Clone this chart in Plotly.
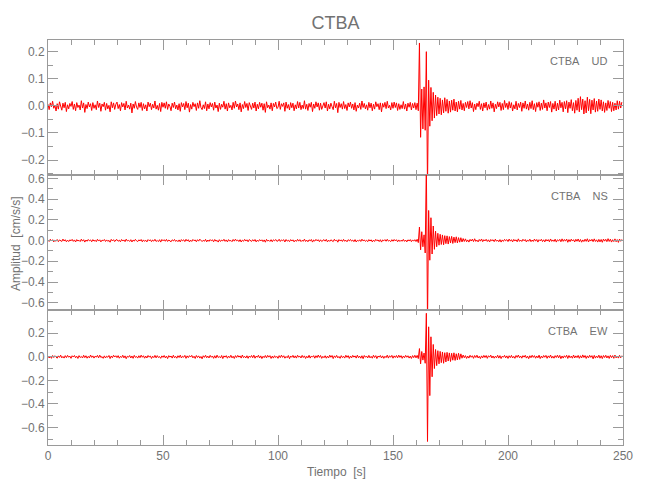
import plotly.graph_objects as go
from plotly.subplots import make_subplots

# ---------------- data (amplitudes in 0.001 cm/s/s) ----------------
station = "CTBA"
components = ["UD", "NS", "EW"]

# sample times [s]: 0.5 s sampling over 0-249.5 s (500 samples per trace)
dt = 0.5
n_samples = 500

ud = [6,-14,11,-3,17,-9,2,-19,8,-12,15,-5,-16,10,-7,13,-21,4,-11,9,
      -2,16,-13,7,-18,12,-6,3,-15,19,-8,11,-24,5,-10,14,-4,8,-17,12,
      -9,4,-14,18,-6,10,-20,7,-3,13,-16,9,-11,2,-22,15,-7,11,-13,6,
      14,-10,5,-18,12,-4,9,-15,17,-8,3,-12,10,-26,7,-9,16,-5,-13,11,
      -6,13,-17,8,-11,4,-19,14,-3,10,-14,6,-8,18,-12,2,-16,9,-21,13,
      -5,11,-9,15,-13,7,-2,-18,10,-6,14,-11,3,-15,8,-20,12,-4,9,-14,
      16,-7,10,-23,5,-12,13,-3,8,-17,11,-9,19,-6,-14,4,-10,15,-18,7,
      -11,12,-4,9,-16,14,-8,3,-21,10,-13,6,-5,17,-12,8,-19,11,-7,2,
      -15,13,-9,18,-4,7,-14,11,-22,5,-10,16,-6,9,-17,12,-3,-13,10,-8,
      14,-19,6,-11,13,-5,10,-16,8,-24,15,-7,3,-12,11,-18,9,-4,14,-10,
      -6,17,-13,8,-2,11,-20,14,-9,5,-15,12,-7,10,-18,4,-11,16,-8,13,
      -14,3,-10,19,-12,6,-17,9,-5,13,-21,7,-9,15,-4,11,-16,10,-13,2,
      12,-8,15,-19,6,-11,10,-3,-14,17,-7,9,-25,13,-6,8,-12,16,-10,5,
      -17,11,-4,14,-9,7,-15,12,-20,3,-8,10,-13,18,-6,9,-11,4,-16,13,
      -7,10,-18,6,-12,15,-3,8,-14,11,-22,9,-5,13,-10,17,-8,2,-15,12,
      -9,14,-6,11,-17,8,-13,4,-10,16,-12,7,-19,10,-5,13,-15,9,-8,12,
      -14,10,-18,232,-116,62,-85,70,-90,200,-300,95,-75,68,-55,50,-45,40,-36,32,
      -30,28,-33,22,-26,30,-20,24,-27,18,-23,21,-16,25,-19,14,-22,17,-12,20,
      -15,9,-18,13,-6,16,-11,19,-8,12,-21,7,-14,10,-3,17,-13,8,-19,11,
      -7,14,-16,5,-12,18,-9,11,-22,6,-10,15,-4,13,-17,9,-14,20,-6,10,
      -13,16,-8,12,-19,4,-11,17,-15,9,-6,14,-20,11,-9,18,-12,7,-16,13,
      -10,19,-14,8,-21,12,-5,15,-17,10,-13,22,-8,11,-18,14,-6,16,-23,9,
      -12,17,-19,10,-15,21,-7,13,-22,16,-11,19,-25,14,-9,23,-18,12,-27,20,
      -16,28,-22,34,-14,25,-30,19,-26,32,-18,24,-29,21,-15,27,-23,18,-20,25,
      -13,22,-19,15,-24,11,-17,20,-9,16,-21,13,-18,10,-15,19,-12,17,-8,14]

ns = [5,-9,12,-4,8,-13,3,-7,10,-11,6,-2,-9,14,-5,8,-12,4,-10,7,
      -3,11,-8,6,-14,9,-4,2,-10,13,-6,8,-15,5,-7,10,-3,6,-12,9,
      -6,3,-11,12,-5,7,-13,4,-2,10,-9,6,-8,2,-16,11,-4,8,-10,5,
      9,-7,3,-12,10,-5,6,-11,13,-4,2,-9,8,-14,5,-6,11,-3,-10,7,
      -4,10,-12,6,-8,3,-13,9,-2,7,-11,5,-6,12,-9,1,-10,8,-15,10,
      -3,8,-7,11,-9,5,-1,-12,7,-4,10,-8,2,-11,6,-13,9,-3,7,-10,
      12,-5,8,-14,4,-9,10,-2,6,-12,8,-6,13,-4,-10,3,-7,11,-13,5,
      -8,9,-3,7,-12,10,-6,2,-15,8,-9,4,-4,12,-8,6,-13,9,-5,1,
      -11,10,-6,13,-3,5,-10,8,-14,4,-7,11,-5,7,-12,9,-2,-9,8,-6,
      10,-13,4,-8,9,-4,7,-11,6,-16,11,-5,2,-9,8,-12,7,-3,10,-7,
      -4,12,-9,6,-1,8,-14,10,-6,3,-11,9,-5,7,-13,3,-8,11,-6,9,
      -10,2,-7,13,-9,4,-12,7,-3,10,-15,5,-6,11,-3,8,-11,7,-9,2,
      9,-6,11,-13,4,-8,7,-2,-10,12,-5,6,-16,9,-4,6,-9,11,-7,3,
      -12,8,-3,10,-6,5,-11,9,-14,2,-6,7,-9,13,-4,6,-8,3,-11,9,
      -5,7,-13,4,-9,11,-2,6,-10,8,-15,6,-3,9,-7,12,-6,1,-11,8,
      -7,10,-4,8,-12,6,-9,3,-7,11,-8,5,-13,7,-4,9,-11,6,-6,8,
      -10,12,-20,130,-90,85,-60,55,-120,750,-800,290,-190,220,-130,140,-85,90,-60,70,
      -45,60,-38,54,-41,47,-30,45,-34,38,-24,40,-28,33,-20,36,-23,28,-16,27,
      -14,19,-9,16,-12,6,-15,11,-5,13,-10,17,-8,4,-13,10,-6,15,-11,8,
      -4,12,-9,7,-14,10,-3,8,-11,13,-7,5,-12,9,-15,6,-8,11,-2,9,
      -10,14,-6,8,-13,11,-4,7,-12,16,-8,5,-9,12,-3,10,-14,6,-7,13,
      -11,5,-9,14,-6,10,-15,8,-3,12,-10,7,-13,11,-5,9,-12,15,-8,6,
      -9,13,-15,7,-4,11,-12,16,-8,10,-6,14,-17,9,-11,13,-5,8,-14,12,
      -7,15,-12,10,-16,6,-10,13,-8,17,-14,9,-5,12,-11,16,-9,7,-15,11,
      -13,10,-17,14,-6,12,-11,18,-9,13,-15,8,-10,16,-12,9,-18,14,-7,11]

ew = [7,-10,4,-13,11,-6,9,-3,-12,8,-5,14,-9,3,-11,10,-7,12,-4,6,
      -13,9,-2,11,-8,5,-14,10,-6,3,-10,13,-7,9,-12,4,-9,15,-5,8,
      -11,6,-3,12,-9,14,-6,2,-13,8,-10,5,-4,11,-15,7,-8,13,-2,9,
      -7,10,-12,4,-6,13,-9,8,-16,5,-3,11,-10,7,-13,12,-5,3,-11,9,
      -8,14,-4,9,-12,6,-10,11,-3,8,-14,5,-7,12,-9,10,-6,2,-13,8,
      -5,11,-9,6,-15,10,-3,7,-11,13,-8,4,-12,9,-6,14,-10,5,-4,12,
      -13,8,-7,10,-2,12,-9,5,-14,11,-6,8,-11,3,-17,9,-5,13,-8,6,
      -10,12,-4,7,-13,9,-11,14,-6,3,-9,11,-15,8,-3,10,-12,6,-7,13,
      -9,5,-14,10,-6,12,-3,8,-11,15,-7,4,-10,9,-13,7,-5,11,-8,14,
      -12,6,-4,13,-10,8,-15,5,-7,11,-9,12,-3,10,-14,6,-11,9,-6,4,
      -13,10,-7,14,-5,9,-12,3,-8,11,-16,7,-4,12,-9,8,-11,13,-3,6,
      -10,12,-6,8,-14,5,-9,13,-11,7,-3,10,-12,9,-7,15,-5,11,-13,4,
      -8,9,-12,6,-10,14,-4,11,-15,8,-6,12,-9,3,-13,10,-7,5,-11,13,
      -5,10,-14,7,-9,12,-3,8,-11,14,-8,6,-12,9,-16,11,-4,7,-10,12,
      -9,4,-12,13,-6,10,-15,7,-3,11,-10,8,-13,5,-7,14,-11,9,-4,12,
      -12,8,-6,11,-9,14,-5,10,-13,7,-8,12,-4,9,-11,6,-14,10,-7,13,
      -9,12,-15,70,-60,45,-28,32,-55,370,-720,255,-330,170,-170,105,-100,62,-75,52,
      -60,46,-50,41,-55,35,-44,38,-36,33,-40,30,-29,34,-31,26,-27,30,-22,25,
      -12,15,-8,10,-14,6,-11,13,-4,9,-13,11,-6,14,-10,5,-15,8,-9,12,
      -6,11,-13,9,-3,14,-10,7,-12,5,-8,13,-11,10,-15,6,-4,12,-9,8,
      -14,9,-7,12,-10,4,-13,11,-5,15,-8,7,-12,10,-3,13,-11,6,-16,9,
      -8,13,-5,10,-12,7,-9,14,-15,6,-10,11,-4,12,-13,8,-7,15,-11,5,
      -12,10,-6,14,-9,12,-16,7,-11,9,-5,13,-14,11,-8,6,-12,15,-10,8,
      -7,12,-13,9,-10,16,-6,11,-14,8,-9,13,-5,10,-17,12,-11,7,-8,14,
      -12,9,-15,11,-6,13,-10,8,-14,12,-7,10,-13,15,-9,6,-11,13,-8,10]

y_ranges = [[-0.255, 0.243], [-0.67, 0.632], [-0.75, 0.398]]
y_dticks = [0.1, 0.2, 0.2]
y_minor = [0.05, 0.1, 0.1]

# ---------------- figure ----------------
t = [k * dt for k in range(n_samples)]
series = [ud, ns, ew]

FONT = "Liberation Sans, Arial, sans-serif"
AXC = "#9a9a9a"
TXC = "#727272"

fig = make_subplots(rows=3, cols=1, shared_xaxes=True, vertical_spacing=0)
for i, vals in enumerate(series):
    fig.add_trace(go.Scatter(x=t, y=[v / 1000 for v in vals], mode="lines",
                             line=dict(color="#ff0000", width=1),
                             showlegend=False, hoverinfo="skip"),
                  row=i + 1, col=1)

domains = [[2/3, 1.0], [1/3, 2/3], [0.0, 1/3]]
for i in range(3):
    fig.update_yaxes(row=i + 1, col=1, domain=domains[i], range=y_ranges[i],
                     dtick=y_dticks[i], tick0=0, tickformat=".1f", automargin=False,
                     showline=True, linecolor=AXC, linewidth=1, mirror="ticks",
                     ticks="inside", ticklen=10, tickcolor=AXC, tickwidth=1,
                     minor=dict(dtick=y_minor[i], tick0=0, ticks="inside", ticklen=5,
                                tickcolor=AXC, showgrid=False),
                     showgrid=False, zeroline=False,
                     tickfont=dict(family=FONT, size=12, color=TXC))
    fig.update_xaxes(row=i + 1, col=1, range=[0, 250], dtick=50, tick0=0,
                     automargin=False,
                     showline=True, linecolor=AXC, linewidth=1, mirror="ticks",
                     ticks="inside", ticklen=10, tickcolor=AXC, tickwidth=1,
                     minor=dict(dtick=10, tick0=0, ticks="inside", ticklen=5,
                                tickcolor=AXC, showgrid=False),
                     showgrid=False, zeroline=False, showticklabels=(i == 2),
                     tickfont=dict(family=FONT, size=12, color=TXC))

# axis titles
fig.add_annotation(xref="paper", yref="paper", x=0.501, y=-0.066,
                   xanchor="center", yanchor="middle", showarrow=False,
                   text="Tiempo\u00a0\u00a0[s]", font=dict(family=FONT, size=12, color=TXC))
fig.add_annotation(xref="paper", yref="paper", x=-0.0565, y=0.4975,
                   xanchor="center", yanchor="middle", showarrow=False, textangle=-90,
                   text="Amplitud\u00a0\u00a0[cm/s/s]", font=dict(family=FONT, size=12, color=TXC))

for i, comp in enumerate(components):
    fig.add_annotation(xref="x domain" if i == 0 else f"x{i+1} domain",
                       yref="y domain" if i == 0 else f"y{i+1} domain",
                       x=0.977, y=0.845, xanchor="right", yanchor="middle",
                       text=station + "\u00a0\u00a0\u00a0\u00a0" + comp, showarrow=False,
                       font=dict(family=FONT, size=11, color=TXC))

# the page places the figure 8 px in from the window's top-left corner
fig.update_layout(width=650, height=500,
                  margin=dict(l=40, r=35, t=32, b=63),
                  paper_bgcolor="white", plot_bgcolor="white",
                  title=dict(text=station, x=0.5, xref="paper", xanchor="center",
                             y=0.9706, yanchor="middle",
                             font=dict(family=FONT, size=18, color=TXC)))

fig.write_html("out.html")
